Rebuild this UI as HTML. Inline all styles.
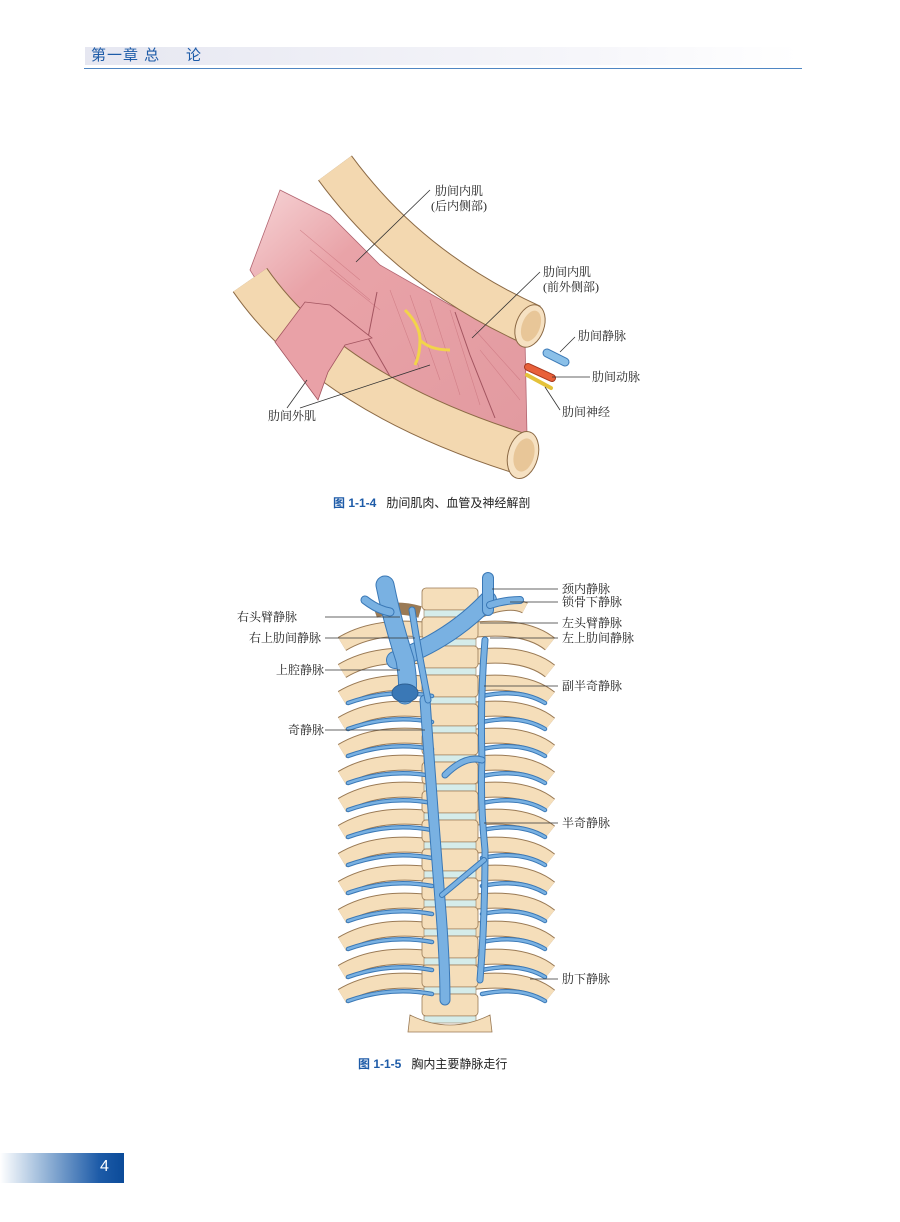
<!DOCTYPE html>
<html><head><meta charset="utf-8">
<style>
html,body{margin:0;padding:0;background:#fff;}
body{width:900px;height:1222px;position:relative;overflow:hidden;font-family:"Liberation Serif","Noto Serif CJK SC",serif;}
.hdr{position:absolute;left:85px;top:47px;width:715px;height:18px;background:linear-gradient(90deg,#e6e7f1,#f6f6fa 70%,#fff);}
.hdr span{position:absolute;left:6px;top:0;font:15px "Liberation Sans","Noto Sans CJK SC",sans-serif;color:#1d5ba8;line-height:18px;letter-spacing:1px}
.hline{position:absolute;left:84px;top:68px;width:718px;height:1px;background:#4f86c3;}
.foot{position:absolute;left:0;top:1153px;width:124px;height:30px;background:linear-gradient(90deg,#fff,#9ab8d9 35%,#1d5ba8 80%,#0b4b99);}
.foot span{position:absolute;left:100px;top:5px;color:#fff;font:16px "Liberation Sans",sans-serif;}
.cap{position:absolute;font:12px "Liberation Sans","Noto Sans CJK SC",sans-serif;color:#222;white-space:nowrap}
.cap b{color:#1d5ba8;font-weight:bold;margin-right:10px}
svg{position:absolute;left:0;top:0}
svg text{font-family:"Liberation Serif","Noto Serif CJK SC",serif;font-size:12px;fill:#222}
</style></head><body>
<div class="hdr"><span>第一章 总&nbsp;&nbsp;&nbsp;&nbsp;&nbsp;论</span></div>
<div class="hline"></div>
<svg width="900" height="1222" viewBox="0 0 900 1222" id="s">
<defs>
<linearGradient id="mg" x1="0" y1="0" x2="1" y2="1"><stop offset="0" stop-color="#f6d4d6"/><stop offset="0.3" stop-color="#e9a3a8"/><stop offset="1" stop-color="#e29aa0"/></linearGradient>
</defs>
<polygon points="280,190 330,215 380,265 450,305 525,340 527,435 480,420 400,385 330,345 275,310 250,270" fill="url(#mg)" stroke="#b26470" stroke-width="0.8"/>
<g stroke="#c9727c" stroke-width="0.6" opacity="0.7">
<line x1="300" y1="230" x2="360" y2="280"/><line x1="310" y1="250" x2="370" y2="300"/><line x1="330" y1="270" x2="380" y2="310"/>
<line x1="390" y1="290" x2="420" y2="370"/><line x1="410" y1="295" x2="440" y2="380"/><line x1="430" y1="300" x2="460" y2="395"/><line x1="450" y1="310" x2="480" y2="405"/>
<line x1="475" y1="330" x2="520" y2="380"/><line x1="480" y1="350" x2="520" y2="400"/>
</g>
<path d="M377 292 L368 338 L395 385" fill="none" stroke="#a35560" stroke-width="1"/>
<path d="M455 312 L470 355 L495 418" fill="none" stroke="#a35560" stroke-width="1"/>
<path d="M405 310 Q420 325 420 340 Q420 355 415 365 M420 340 Q430 350 450 350" fill="none" stroke="#f2d44a" stroke-width="3"/>
<path d="M335 168 Q410 270 532 325" fill="none" stroke="#8c6a45" stroke-width="42"/>
<path d="M335 168 Q410 270 532 325" fill="none" stroke="#f3d8b0" stroke-width="40"/>
<ellipse cx="530" cy="326" rx="14" ry="22" transform="rotate(20 530 326)" fill="#f6e1c2" stroke="#8c6a45"/>
<ellipse cx="531" cy="326" rx="9" ry="16" transform="rotate(20 531 326)" fill="#e8c698"/>
<path d="M250 280 Q330 395 525 455" fill="none" stroke="#8c6a45" stroke-width="42"/>
<path d="M250 280 Q330 395 525 455" fill="none" stroke="#f3d8b0" stroke-width="40"/>
<ellipse cx="523" cy="455" rx="15" ry="24" transform="rotate(15 523 455)" fill="#f6e1c2" stroke="#8c6a45"/>
<ellipse cx="524" cy="455" rx="10" ry="17" transform="rotate(15 524 455)" fill="#e8c698"/>
<polygon points="275,342 305,302 330,305 372,338 345,345 328,372 318,400" fill="#e9a1a7" stroke="#a35560" stroke-width="0.8"/>
<line x1="547" y1="353" x2="565" y2="362" stroke="#3a78b6" stroke-width="9" stroke-linecap="round"/>
<line x1="547" y1="353" x2="565" y2="362" stroke="#8bc0e8" stroke-width="7" stroke-linecap="round"/>
<line x1="528" y1="367" x2="552" y2="378" stroke="#a8381f" stroke-width="8" stroke-linecap="round"/>
<line x1="528" y1="367" x2="552" y2="378" stroke="#e8603a" stroke-width="6" stroke-linecap="round"/>
<line x1="527" y1="375" x2="551" y2="388" stroke="#e4c23a" stroke-width="4" stroke-linecap="round"/>
<g stroke="#333" stroke-width="0.8" fill="none">
<line x1="430" y1="190" x2="356" y2="262"/>
<line x1="540" y1="272" x2="472" y2="338"/>
<line x1="575" y1="337" x2="560" y2="352"/>
<line x1="590" y1="377" x2="552" y2="377"/>
<line x1="560" y1="410" x2="545" y2="387"/>
<line x1="287" y1="408" x2="307" y2="380"/>
<line x1="300" y1="408" x2="430" y2="365"/>
</g>
<text x="435" y="195">肋间内肌</text><text x="431" y="210">(后内侧部)</text>
<text x="543" y="276">肋间内肌</text><text x="543" y="291">(前外侧部)</text>
<text x="578" y="340">肋间静脉</text>
<text x="592" y="381">肋间动脉</text>
<text x="562" y="416">肋间神经</text>
<text x="268" y="420">肋间外肌</text>
<g id="fig2"></g>
</svg>
<div class="cap" style="left:333px;top:494px"><b>图 1-1-4</b>肋间肌肉、血管及神经解剖</div>
<div class="cap" style="left:358px;top:1055px"><b>图 1-1-5</b>胸内主要静脉走行</div>
<div class="foot"><span>4</span></div>
<script>
var g=document.getElementById('fig2'),h='';
var ys=[640,667,694,720,747,774,801,828,856,884,912,940,968,992];
ys.forEach(function(y,i){
 var L='M428 '+(y-10)+' Q375 '+(y-16)+' 342 '+(y+4);
 var R='M472 '+(y-10)+' Q525 '+(y-16)+' 550 '+(y+4);
 [L,R].forEach(function(d){h+='<path d="'+d+'" fill="none" stroke="#9a7a55" stroke-width="16"/><path d="'+d+'" fill="none" stroke="#f5deba" stroke-width="14"/>';});
});
h+='<path d="M420 612 Q395 605 375 612" fill="none" stroke="#9a7a55" stroke-width="12"/><path d="M480 612 Q510 600 525 608" fill="none" stroke="#9a7a55" stroke-width="12"/><path d="M480 612 Q510 600 525 608" fill="none" stroke="#f5deba" stroke-width="10"/>';
for(var y=588;y<1020;y+=29){
 h+='<rect x="422" y="'+y+'" width="56" height="22" rx="4" fill="#f5deba" stroke="#9a7a55" stroke-width="0.8"/>';
 h+='<rect x="424" y="'+(y+22)+'" width="52" height="7" fill="#d5ecea" stroke="#9a7a55" stroke-width="0.6"/>';
}
h+='<path d="M410 1015 Q450 1035 490 1015 L492 1032 L408 1032 Z" fill="#f5deba" stroke="#9a7a55" stroke-width="0.8"/>';
function v(d,w){h+='<path d="'+d+'" fill="none" stroke="#3a78b6" stroke-width="'+(w+2)+'" stroke-linecap="round"/><path d="'+d+'" fill="none" stroke="#79b1e2" stroke-width="'+w+'" stroke-linecap="round"/>';}
ys.forEach(function(y,i){
 if(i>1){v('M432 '+(y+2)+' Q390 '+(y-6)+' 348 '+(y+9),2.5);v('M482 '+(y+2)+' Q520 '+(y-6)+' 545 '+(y+9),2.5);}
});
v('M425 700 Q432 800 440 900 Q445 960 445 1000',9);
v('M485 640 Q480 700 482 760 Q480 800 485 850 Q485 920 480 980',5);
v('M484 860 Q460 880 442 895',4);
v('M482 760 Q465 755 445 775',5);
v('M395 660 Q450 640 488 600',16);
v('M385 585 Q392 620 405 660 Q410 690 405 695',17);
v('M365 600 Q378 610 390 612',7);
v('M488 578 L488 610',10);v('M490 605 Q505 600 520 600',6);
v('M412 610 Q418 650 428 700',5);
h+='<ellipse cx="405" cy="693" rx="13" ry="9" fill="#3a78b6" stroke="#2d5f93"/>';
var L=[[325,617,400,617,'右头臂静脉',237],[325,638,415,638,'右上肋间静脉',249],[325,670,400,670,'上腔静脉',276],[325,730,425,730,'奇静脉',288]];
L.forEach(function(a){h+='<line x1="'+a[0]+'" y1="'+a[1]+'" x2="'+a[2]+'" y2="'+a[3]+'" stroke="#333" stroke-width="0.8"/><text x="'+a[5]+'" y="'+(a[1]+4)+'">'+a[4]+'</text>';});
var R=[[589,492,'颈内静脉'],[602,510,'锁骨下静脉'],[623,480,'左头臂静脉'],[638,490,'左上肋间静脉'],[686,484,'副半奇静脉'],[823,484,'半奇静脉'],[979,530,'肋下静脉']];
R.forEach(function(a){h+='<line x1="'+a[1]+'" y1="'+a[0]+'" x2="558" y2="'+a[0]+'" stroke="#333" stroke-width="0.8"/><text x="562" y="'+(a[0]+4)+'">'+a[2]+'</text>';});
g.innerHTML=h;
</script>
</body></html>
